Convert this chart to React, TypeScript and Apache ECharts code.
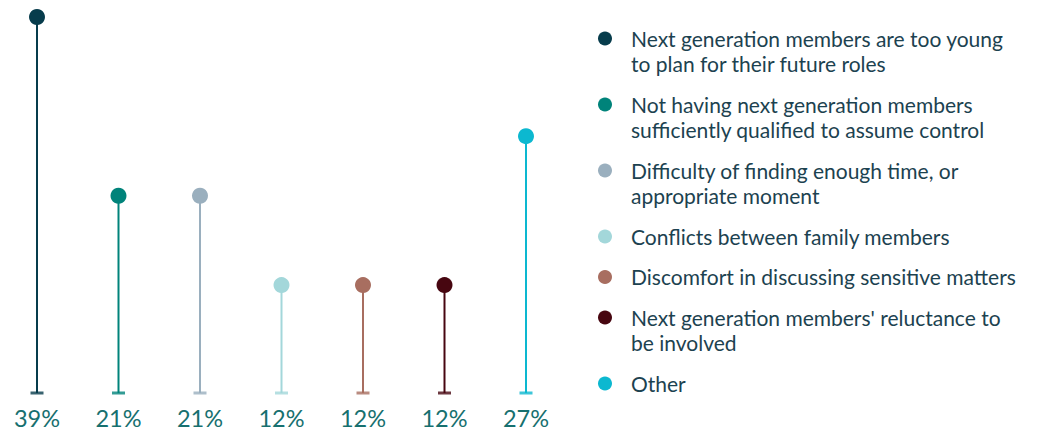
import React, { useEffect, useRef } from "react";
import * as echarts from "echarts";

const categories = [
  "Next generation members are too young\nto plan for their future roles",
  "Not having next generation members\nsufficiently qualified to assume control",
  "Difficulty of finding enough time, or\nappropriate moment",
  "Conflicts between family members",
  "Discomfort in discussing sensitive matters",
  "Next generation members' reluctance to\nbe involved",
  "Other",
];
const values = [39, 21, 21, 12, 12, 12, 27];
const colors = ["#073c4c", "#00837a", "#9aafbe", "#a3d7da", "#a86e60", "#470610", "#0cb8d0"];

const FONT = "Lato, 'Noto Sans', sans-serif";
const Y_MIN = 1.13;
const Y_MAX = 39;

export default function App() {
  const ref = useRef<HTMLDivElement>(null);
  useEffect(() => {
    document.body.style.margin = "0";
    const chart = echarts.init(ref.current!, null, { renderer: "svg" });

    const legendChildren: any[] = [];
    let y = 38.5;
    categories.forEach((name, i) => {
      const lines = name.split("\n").length;
      legendChildren.push({
        type: "circle",
        shape: { cx: 605, cy: y, r: 7 },
        style: { fill: colors[i] },
      });
      legendChildren.push({
        type: "text",
        x: 631,
        y: y - 13,
        style: {
          text: name,
          fill: "#1c4250",
          font: `21px ${FONT}`,
          lineHeight: 25,
          verticalAlign: "top",
        },
      });
      y += lines * 25 + (lines === 2 ? 16 : 15.5);
    });

    chart.setOption({
      animation: false,
      grid: { left: 37, right: 511, top: 17, bottom: 39, containLabel: false },
      xAxis: {
        type: "category",
        data: categories,
        boundaryGap: false,
        axisLine: { show: false },
        axisTick: { show: false },
        axisLabel: {
          interval: 0,
          margin: 13,
          color: "#17706f",
          fontFamily: FONT,
          fontSize: 23.5,
          formatter: (_v: string, idx: number) => `${values[idx]}%`,
        },
      },
      yAxis: {
        type: "value",
        min: Y_MIN,
        max: Y_MAX,
        show: false,
        splitLine: { show: false },
      },
      series: [
        {
          type: "bar",
          barWidth: 2,
          data: values.map((v, i) => ({ value: v, itemStyle: { color: colors[i] } })),
          silent: true,
        },
        {
          type: "scatter",
          symbol: "rect",
          symbolSize: [13, 3],
          data: values.map((_v, i) => ({ value: [i, Y_MIN], itemStyle: { color: colors[i] } })),
          clip: false,
          silent: true,
        },
        {
          type: "scatter",
          symbol: "circle",
          symbolSize: 16,
          data: values.map((v, i) => ({ value: [i, v], itemStyle: { color: colors[i], opacity: 1 } })),
          clip: false,
          silent: true,
        },
      ],
      graphic: [{ type: "group", children: legendChildren }],
    });
    return () => chart.dispose();
  }, []);
  return <div ref={ref} style={{ width: 1037, height: 432 }} />;
}
